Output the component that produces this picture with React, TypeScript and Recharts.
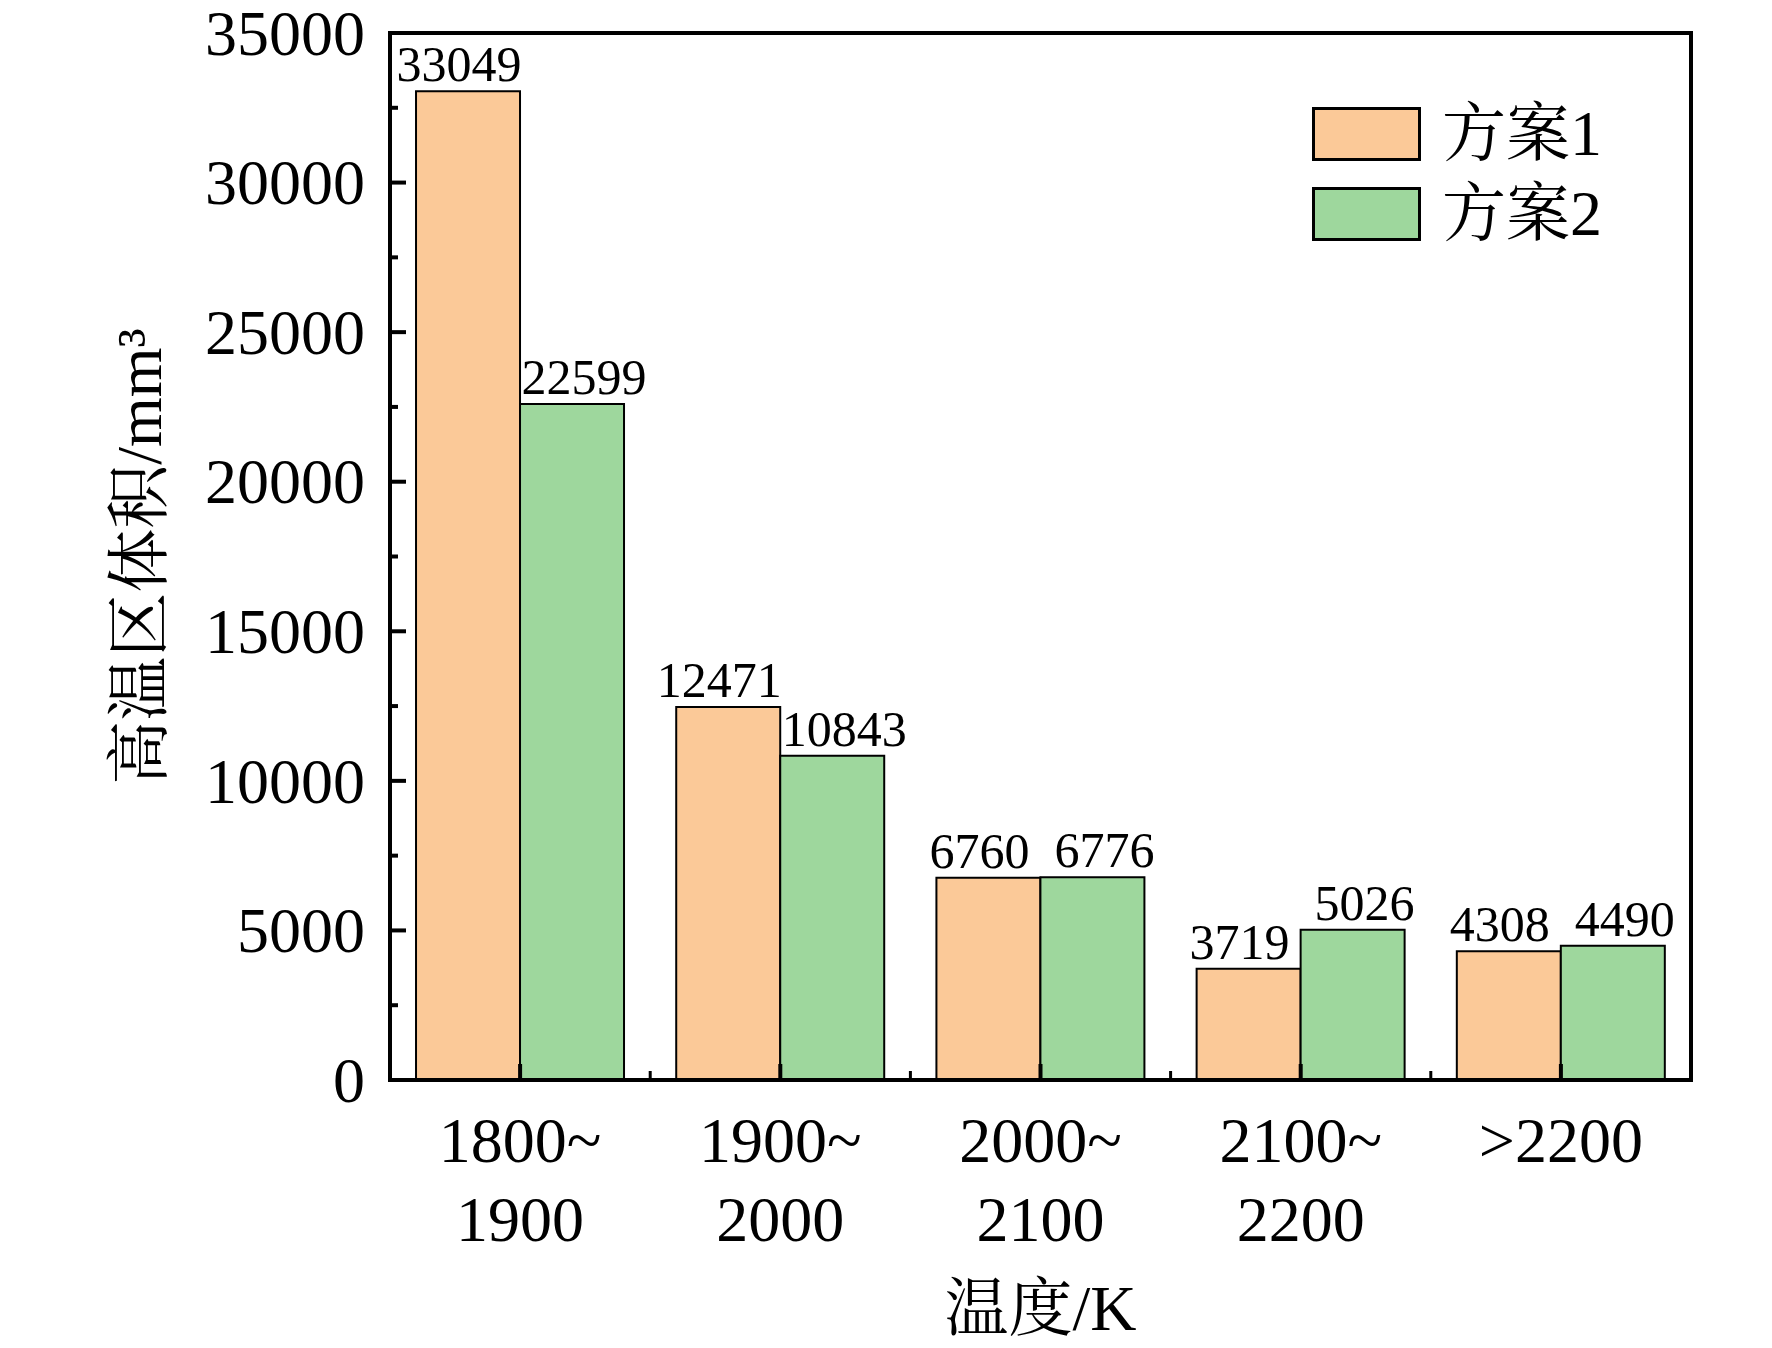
import { BarChart, Bar, XAxis, YAxis, Legend, LabelList, Label, ReferenceArea, ReferenceLine } from "recharts";

const FONT = "'Liberation Serif', 'Times New Roman', 'Noto Serif CJK SC', 'Noto Sans CJK SC', serif";

const categories = ["1800~1900", "1900~2000", "2000~2100", "2100~2200", ">2200"];
const plan1 = [33049, 12471, 6760, 3719, 4308];
const plan2 = [22599, 10843, 6776, 5026, 4490];
const yTicks = [0, 2500, 5000, 7500, 10000, 12500, 15000, 17500, 20000, 22500, 25000, 27500, 30000, 32500, 35000];

const data = categories.map((name, i) => ({ name, plan1: plan1[i], plan2: plan2[i] }));

const YTick = ({ x, y, payload }: any) => {
  const major = payload.value % 5000 === 0;
  return (
    <g>
      <line x1={x} x2={x + (major ? 16 : 8)} y1={y} y2={y} stroke="#000" strokeWidth={4} />
      {major && (
        <text x={x - 25} y={y} dy="0.34em" textAnchor="end" fontSize={64} fontFamily={FONT} fill="#000">
          {payload.value}
        </text>
      )}
    </g>
  );
};

const XTick = ({ x, y, payload }: any) => {
  const s = String(payload.value);
  const k = s.indexOf("~");
  const l1 = k >= 0 ? s.slice(0, k + 1) : s;
  const l2 = k >= 0 ? s.slice(k + 1) : "";
  return (
    <g>
      <line x1={x} x2={x} y1={y} y2={y - 16} stroke="#000" strokeWidth={4} />
      <text x={x} y={y + 82} textAnchor="middle" fontSize={64} fontFamily={FONT} fill="#000">{l1}</text>
      {l2 && <text x={x} y={y + 161} textAnchor="middle" fontSize={64} fontFamily={FONT} fill="#000">{l2}</text>}
    </g>
  );
};

// short tick standing on the x axis at a group boundary
const MinorTick = (p: any) => {
  const yb = Math.max(p.y1, p.y2);
  return <line x1={p.x1} x2={p.x1} y1={yb} y2={yb - 9} stroke="#000" strokeWidth={3} />;
};

const renderLegend = (props: any) => (
  <div style={{ display: "flex", flexDirection: "column", gap: 26 }}>
    {props.payload.map((p: any) => (
      <div key={p.value} style={{ display: "flex", alignItems: "center", height: 54 }}>
        <div style={{ width: 109, height: 54, background: p.color, border: "3px solid #000", boxSizing: "border-box" }} />
        <span style={{ marginLeft: 21, fontSize: 64, fontFamily: FONT, lineHeight: "54px", color: "#000" }}>{p.value}</span>
      </div>
    ))}
  </div>
);

export default function App() {
  return (
    <div style={{ position: "absolute", left: 0, top: 0, background: "#fff" }}>
      <BarChart width={1772} height={1348} data={data} margin={{ top: 33, right: 81, left: 0, bottom: 0 }}
        barCategoryGap="10%" barGap={0}>
        <XAxis dataKey="name" height={268} tickSize={0} tickMargin={0} tickLine={false}
          axisLine={{ stroke: "#000", strokeWidth: 4 }} tick={<XTick />} interval={0}>
          <Label content={(p: any) => (
            <text x={p.viewBox.x + p.viewBox.width / 2} y={p.viewBox.y + 250} textAnchor="middle"
              fontSize={64} fontFamily={FONT} fill="#000">温度/K</text>
          )} />
        </XAxis>
        <YAxis domain={[0, 35000]} ticks={yTicks} interval={0} width={390} tickSize={0} tickMargin={0}
          tickLine={false} axisLine={{ stroke: "#000", strokeWidth: 4 }} tick={<YTick />}>
          <Label content={(p: any) => {
            const cx = p.viewBox.x + 139;
            const cy = p.viewBox.y + p.viewBox.height / 2;
            return (
              <text x={cx} y={cy} transform={`rotate(-90 ${cx} ${cy})`} textAnchor="middle" dominantBaseline="central"
                fontSize={64} fontFamily={FONT} fill="#000">高温区体积/mm³</text>
            );
          }} />
        </YAxis>
        <Legend layout="vertical" align="center" verticalAlign="middle" content={renderLegend}
          wrapperStyle={{ left: 1312, top: 107, width: "auto" }} />
        <Bar dataKey="plan1" name="方案1" fill="#FBC998" stroke="#000" strokeWidth={2} isAnimationActive={false}>
          <LabelList dataKey="plan1" position="top" offset={10} dx={-9} fontSize={50} fontFamily={FONT} fill="#000" />
        </Bar>
        <Bar dataKey="plan2" name="方案2" fill="#9ED79D" stroke="#000" strokeWidth={2} isAnimationActive={false}>
          <LabelList dataKey="plan2" position="top" offset={10} dx={12} fontSize={50} fontFamily={FONT} fill="#000" />
        </Bar>
        {categories.slice(1).map((c) => (
          <ReferenceLine key={c} x={c} position="start" shape={<MinorTick />} ifOverflow="visible" />
        ))}
        <ReferenceArea y1={0} y2={35000} fill="none" stroke="#000" strokeWidth={4} ifOverflow="visible" />
      </BarChart>
    </div>
  );
}
